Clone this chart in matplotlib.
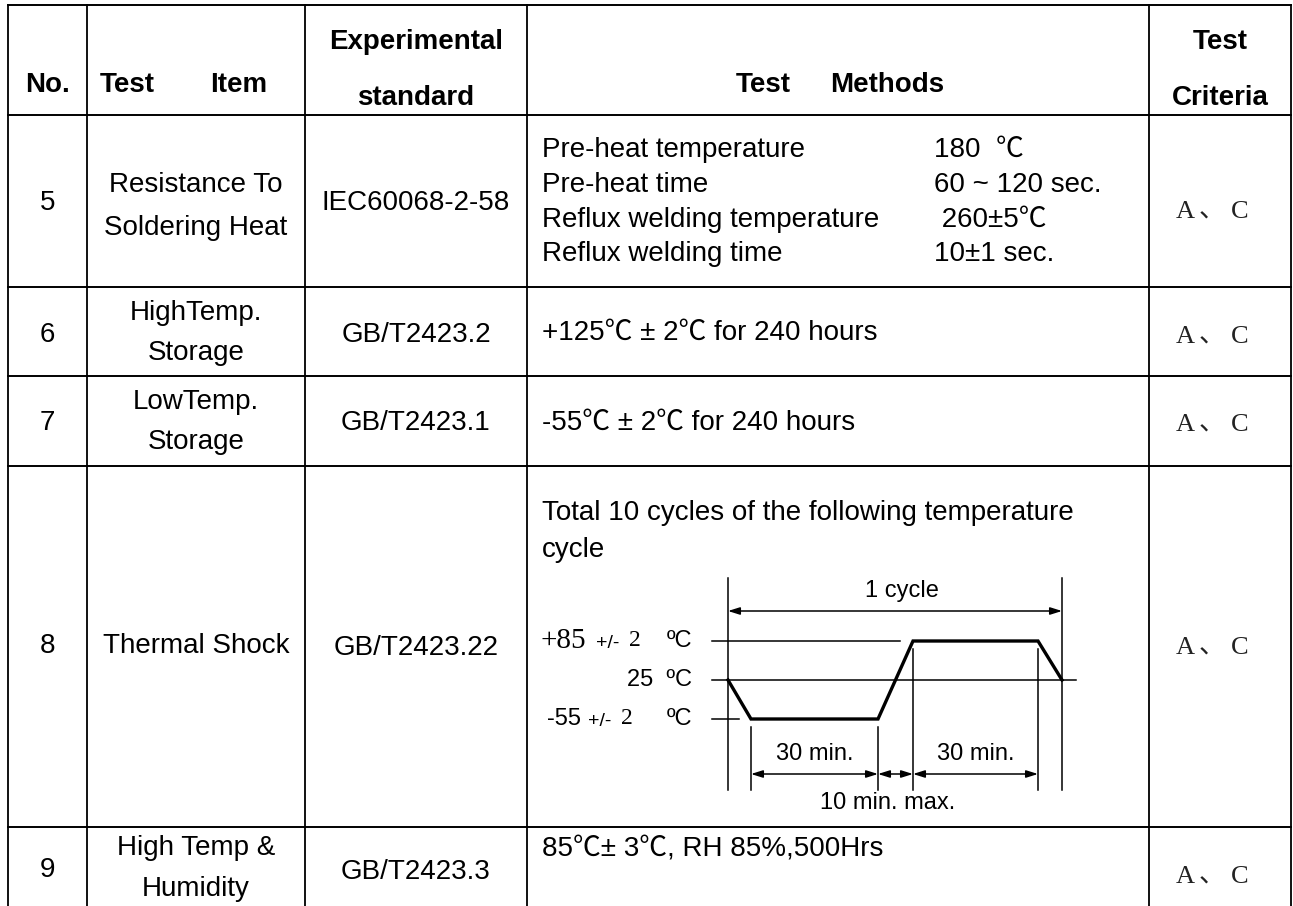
import matplotlib
matplotlib.use("Agg")
import matplotlib.pyplot as plt

# table content
numbers = ["5", "6", "7", "8", "9"]
items = [["Resistance To", "Soldering Heat"], ["HighTemp.", "Storage"],
         ["LowTemp.", "Storage"], ["Thermal Shock"], ["High Temp &", "Humidity"]]
standards = ["IEC60068-2-58", "GB/T2423.2", "GB/T2423.1", "GB/T2423.22", "GB/T2423.3"]
criteria = [["A", "、", "C"]] * 5
reflow_params = ["Pre-heat temperature", "Pre-heat time",
                 "Reflux welding temperature", "Reflux welding time"]
reflow_values = ["180  ℃", "60 ~ 120 sec.", " 260±5℃", "10±1 sec."]
single_methods = {1: "+125℃ ± 2℃ for 240 hours", 2: "-55℃ ± 2℃ for 240 hours",
                  4: "85℃± 3℃, RH 85%,500Hrs"}
shock_text = ["Total 10 cycles of the following temperature", "cycle"]

# thermal shock cycle
levels = [85, 25, -55]
wave_temps = [25, -55, -55, 85, 85, 25]
dwell_labels = ["30 min.", "30 min."]
transfer_label = "10 min. max."
cycle_label = "1 cycle"

# layout (pixels)
col_x = [8, 87, 305, 527, 1149, 1291]
row_y = [5, 115, 287, 376, 466, 827, 906]
num_y = [203, 335, 423, 646, 870]
item_y = [[185, 228], [313, 353], [402, 442], [646], [848, 889]]
std_y = [203, 335, 423, 648, 872]
crit_y = [212, 337, 425, 648, 877]
crit_x = [1185, 1212, 1240]
meth_y = {1: 333, 2: 423, 4: 850}

SANS = ["Liberation Sans", "Noto Sans CJK SC"]
SERIF = ["Liberation Serif", "Noto Sans CJK SC"]
FS = 20

fig = plt.figure(figsize=(12.93, 9.06), dpi=100)
ax = fig.add_axes([0, 0, 1, 1])
ax.set_xlim(0, 1293)
ax.set_ylim(906, 0)
ax.axis("off")

# grid
for x in col_x:
    ax.plot([x, x], [row_y[0], row_y[-1]], color="#111111", lw=1.4)
for y in row_y[:-1]:
    ax.plot([col_x[0], col_x[-1]], [y, y], color="black", lw=1.4)


def txt(x, y, s, ha="center", size=FS, family=SANS, weight="normal", color="black"):
    ax.text(x, y, s, ha=ha, va="center", fontsize=size, family=family,
            fontweight=weight, color=color)


def cx(i):
    return (col_x[i] + col_x[i + 1]) / 2


# header
txt(cx(0), 85, "No.", weight="bold")
txt(100, 85, "Test", ha="left", weight="bold")
txt(210, 85, "Item", ha="left", weight="bold")
txt(cx(2), 42, "Experimental", weight="bold")
txt(cx(2), 98, "standard", weight="bold")
txt(736, 85, "Test", ha="left", weight="bold")
txt(830, 85, "Methods", ha="left", weight="bold")
txt(cx(4), 42, "Test", weight="bold")
txt(cx(4), 98, "Criteria", weight="bold")

# body rows
for r in range(len(numbers)):
    txt(cx(0), num_y[r], numbers[r])
    for line, y in zip(items[r], item_y[r]):
        txt(cx(1), y, line)
    txt(cx(2), std_y[r], standards[r])
    for part, x in zip(criteria[r], crit_x):
        txt(x, crit_y[r], part, size=19, family=SERIF, color="#222222")
    if r in single_methods:
        txt(542, meth_y[r], single_methods[r], ha="left")

for p, v, y in zip(reflow_params, reflow_values, [150, 185, 220, 254]):
    txt(542, y, p, ha="left")
    txt(934, y, v, ha="left")

for line, y in zip(shock_text, [513, 550]):
    txt(542, y, line, ha="left")

# thermal shock diagram
level_y = {85: 641, 25: 680, -55: 719}
wave_x = [728, 751, 878, 913, 1038, 1062]
tick_top, tick_bot = 578, 790
thin = 1.1

ax.plot(wave_x, [level_y[t] for t in wave_temps], color="black", lw=2.4,
        solid_joinstyle="miter")
ax.plot([712, 900], [level_y[85]] * 2, color="black", lw=thin)
ax.plot([712, 1076], [level_y[25]] * 2, color="black", lw=thin)
ax.plot([712, 739], [level_y[-55]] * 2, color="black", lw=thin)

for x in [wave_x[0], wave_x[-1]]:
    ax.plot([x, x], [tick_top, tick_bot], color="black", lw=thin)
for x in [wave_x[1], wave_x[2]]:
    ax.plot([x, x], [level_y[-55] + 8, tick_bot], color="black", lw=thin)
for x in [wave_x[3], wave_x[4]]:
    ax.plot([x, x], [level_y[85] + 8, tick_bot], color="black", lw=thin)

arrow = dict(arrowstyle="<|-|>,head_length=0.7,head_width=0.22", color="black",
             lw=thin, shrinkA=0, shrinkB=0)
ax.annotate("", xy=(wave_x[0], 611), xytext=(wave_x[-1], 611), arrowprops=arrow)
arrow_y = 774
for a, b in [(wave_x[1], wave_x[2]), (wave_x[2], wave_x[3]), (wave_x[3], wave_x[4])]:
    ax.annotate("", xy=(a, arrow_y), xytext=(b, arrow_y), arrowprops=arrow)

DS = 17
txt(902, 591, cycle_label, size=DS)
txt((wave_x[1] + wave_x[2]) / 2, 754, dwell_labels[0], size=DS)
txt((wave_x[3] + wave_x[4]) / 2, 754, dwell_labels[1], size=DS)
txt(888, 803, transfer_label, size=DS)

# level labels
txt(541, level_y[85], "+%d" % levels[0], ha="left", size=21, family=SERIF)
txt(596, level_y[85] + 2, "+/-", ha="left", size=14)
txt(629, level_y[85], "2", ha="left", size=17, family=SERIF)
txt(692, level_y[85], "ºC", ha="right", size=DS)
txt(692, level_y[25], "%d  ºC" % levels[1], ha="right", size=DS)
txt(547, level_y[-55], "%d" % levels[2], ha="left", size=DS)
txt(588, level_y[-55] + 2, "+/-", ha="left", size=14)
txt(621, level_y[-55], "2", ha="left", size=17, family=SERIF)
txt(692, level_y[-55], "ºC", ha="right", size=DS)

fig.savefig("out.png", dpi=100, facecolor="white")
